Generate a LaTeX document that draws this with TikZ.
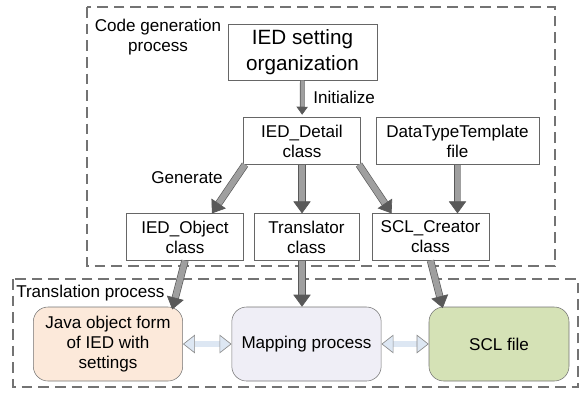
\documentclass[tikz,border=0pt]{standalone}
\usepackage{fontspec}
\setmainfont{Liberation Sans}
\usetikzlibrary{positioning}
\usetikzlibrary{arrows.meta}

\definecolor{javafill}{HTML}{FCE9DA}
\definecolor{mapfill}{HTML}{EFEEF6}
\definecolor{sclfill}{HTML}{D5E2B6}
\definecolor{linkfill}{HTML}{DDE7F3}

\begin{document}
\begin{tikzpicture}[x=0.75pt, y=-0.75pt]

  \tikzstyle{classbox}=[rectangle, draw = black!60, thin, inner sep = 0pt, align = center,
    minimum width = 88pt, minimum height = 35pt, font = \fontsize{12.8}{15}\selectfont]
  \tikzstyle{stage}=[rectangle, rounded corners = 11pt, draw = black!55, thin, inner sep = 0pt,
    align = center, minimum width = 112pt, minimum height = 55.5pt, font = \fontsize{12.8}{15}\selectfont]
  \tikzstyle{region}=[draw = black!55, line width = 1pt, dash pattern = on 8pt off 4.5pt]
  \tikzstyle{label}=[inner sep = 0pt, align = center, font = \fontsize{12.8}{15}\selectfont]
  \tikzstyle{connect}=[-{Triangle[length = 9pt, width = 13pt]}, draw = black!65,
    double = gray!75, double distance = 4.5pt, line width = 0.5pt]
  \tikzstyle{thinconnect}=[-{Triangle[length = 6pt, width = 8.5pt]}, draw = black!65,
    double = gray!75, double distance = 2.5pt, line width = 0.5pt]
  \tikzstyle{exchange}=[{Triangle[length = 9pt, width = 14pt, fill = linkfill]}-{Triangle[length = 9pt, width = 14pt, fill = linkfill]},
    draw = black!45, double = linkfill, double distance = 4pt, line width = 0.5pt]

  \useasboundingbox (0,0) rectangle (588,393);

  % dashed process regions
  \draw[region] (87,7) rectangle (555,266);
  \draw[region] (13,279) rectangle (578,387);

  \node[label] (codegen) at (158,37) {Code generation\\process};
  \node[label, anchor = west] (transproc) at (16,293) {Translation process};

  \node[classbox, minimum width = 111.75pt, minimum height = 42pt,
    font = \fontsize{15.5}{19.5}\selectfont] (setting) at (302.5,52) {IED setting\\organization};
  \node[classbox] (detail) at (302,141) {IED\_Detail\\class};
  \node[classbox, minimum width = 122pt] (dtt) at (457.5,141) {DataTypeTemplate\\file};
  \node[classbox] (object) at (185,237) {IED\_Object\\class};
  \node[classbox, minimum width = 79pt] (transl) at (306.5,237) {Translator\\class};
  \node[classbox] (creator) at (430.5,237) {SCL\_Creator\\class};

  \node[stage, fill = javafill] (java) at (108,344) {Java object form\\of IED with\\settings};
  \node[stage, fill = mapfill] (mapping) at (306.5,344) {Mapping process};
  \node[stage, fill = sclfill, minimum width = 105pt] (scl) at (499,344) {SCL file};

  \node[label, anchor = west] (init) at (313,97) {Initialize};
  \node[label] (gen) at (187,178) {Generate};

  \path (setting) edge [thinconnect, shorten >= 2pt] (detail)
        ([xshift = 1.5pt]detail.south west) edge [connect] ([xshift = -24pt]object.north east)
        (detail.south) edge [connect] (transl.north -| detail.south)
        ([xshift = -1.5pt]detail.south east) edge [connect] ([xshift = 15pt]creator.north west)
        (dtt) edge [connect] (creator.north -| dtt.south)
        (object.south) edge [connect] ([xshift = -8pt, yshift = -2pt]java.north east)
        (transl.south -| detail.south) edge [connect] (mapping.north -| detail.south)
        (creator.south) edge [connect] ([xshift = 10.5pt, yshift = -1pt]scl.north west);

  \path (java) edge [exchange] (mapping)
        (mapping) edge [exchange] (scl);

\end{tikzpicture}
\end{document}
